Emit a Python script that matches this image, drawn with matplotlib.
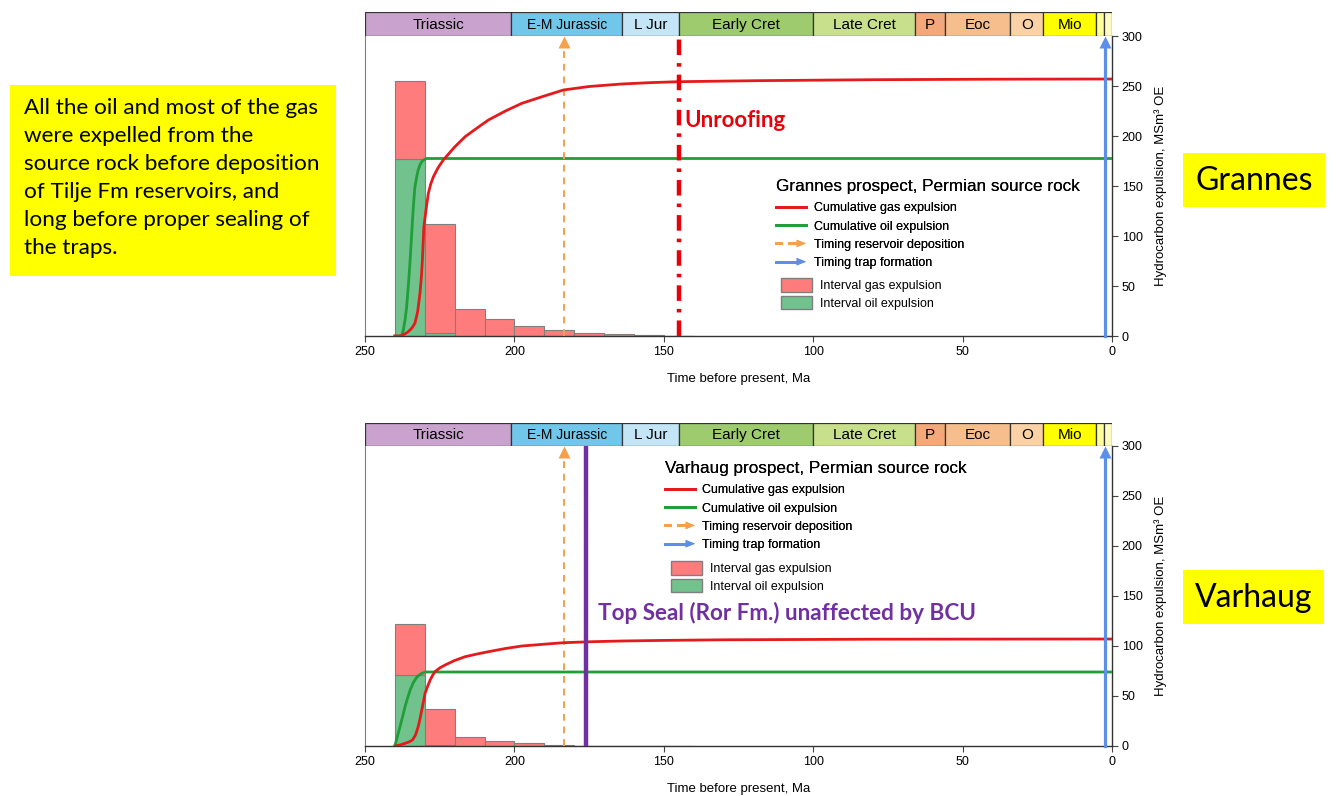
import matplotlib
matplotlib.use('Agg')
import matplotlib.pyplot as plt
from matplotlib.patches import Rectangle, Polygon, Patch
from matplotlib.lines import Line2D
from matplotlib.legend_handler import HandlerBase

plt.rcParams['font.family'] = ['Liberation Sans', 'DejaVu Sans']

W, H = 1338, 796

# geological time scale (Ma)
periods = ['Triassic', 'E-M Jurassic', 'L Jur', 'Early Cret', 'Late Cret', 'P', 'Eoc', 'O', 'Mio', '', '']
period_start = [250, 201, 164, 145, 100, 66, 56, 34, 23, 5.3, 2.6]
period_end = [201, 164, 145, 100, 66, 56, 34, 23, 5.3, 2.6, 0]
period_colors = ['#C9A3CE', '#71C7EA', '#C3E5F5', '#9ECB6E', '#C8E08C', '#F4A779',
                 '#F6BE8D', '#FBD2A6', '#FFFF00', '#FFFF99', '#FFFAC2']

# interval expulsion, 10 Ma bins
bin_mid = [235, 225, 215, 205, 195, 185, 175, 165, 155, 145]
grannes_oil_int = [177, 3, 0.5, 0, 0, 0, 0, 0, 0, 0]
grannes_gas_int = [78, 109, 26.5, 17, 10, 6, 3, 1.7, 0.8, 0.4]
varhaug_oil_int = [71, 1.5, 0.3, 0, 0, 0, 0, 0, 0, 0]
varhaug_gas_int = [51, 35.5, 8.7, 5, 2.7, 1.2, 0.5, 0.2, 0.1, 0]

# cumulative expulsion curves (Ma, MSm3 OE)
grannes_gas_age = [240, 238.3, 237, 235.5, 234.3, 233.3, 232.4, 231.6, 231.1, 230.8, 230.3,
                   229.5, 228.8, 228, 227.1, 225.5, 223.8, 220, 216.5, 212.5, 208.7, 203,
                   197.5, 190, 183.6, 175, 164.1, 155, 145.2, 119.5, 80, 40, 0]
grannes_gas_cum = [0, 0, 1.5, 4.3, 8, 12.7, 24, 42.7, 60, 76, 109,
                   128, 142.7, 152, 159.3, 168.5, 176, 189, 199.3, 208, 216, 225,
                   232.7, 240, 246, 249.5, 252, 253.3, 254.3, 255.3, 256.3, 256.8, 257]
grannes_oil_age = [240, 237.7, 237.1, 236.6, 236.1, 235.7, 235.3, 234.9, 234.5, 234.1,
                   233.7, 233.3, 232.7, 232.2, 231.6, 231, 230.2, 229.4, 0]
grannes_oil_cum = [0, 0, 7, 16, 28, 42.7, 58, 76, 96, 116,
                   134, 149, 159, 166, 171, 174.3, 176.5, 177.5, 177.5]

varhaug_gas_age = [240, 238.3, 236.6, 235.3, 234.1, 233.1, 232.2, 231.6, 231, 230.4, 229.9,
                   229, 228.2, 227.4, 226.6, 225, 223.2, 220, 216.5, 212.5, 208.7, 203,
                   197.5, 190, 183.6, 174, 164.1, 150, 130, 80, 0]
varhaug_gas_cum = [0, 1, 2.7, 4, 6, 11, 19.3, 27, 36, 45, 52.7,
                   60, 66, 70.5, 74.3, 78, 81, 85.5, 89.3, 92, 94.3, 97.5,
                   100, 101.8, 103.3, 104.3, 105, 105.6, 106.2, 106.8, 107]
varhaug_oil_age = [240, 239.2, 238.3, 237.4, 236.6, 235.7, 234.9, 233.8, 232.7, 231.5,
                   230.5, 229.9, 0]
varhaug_oil_cum = [0, 9, 19.3, 29.5, 39.3, 48.5, 56, 63.5, 68.7, 71.8,
                   73.3, 74, 74]

reservoir_age = 183.5
trap_age = 2.5
unroofing_age = 145
top_seal_age = 176

GAS_LINE = '#E41A1C'
OIL_LINE = '#1F9E3A'
GAS_FILL = '#FF7C7C'
OIL_FILL = '#72C28D'
RES_C = '#F5A04A'
TRAP_C = '#5B8FE8'


def fig_box(x0, y0, x1, y1):
    # pixel box (top-left origin) -> figure fraction rect
    return [x0 / W, 1 - y1 / H, (x1 - x0) / W, (y1 - y0) / H]


def fpt(x, y):
    return (x / W, 1 - y / H)


class ArrowHandler(HandlerBase):
    def __init__(self, color, dashed=False):
        super().__init__()
        self.color = color
        self.dashed = dashed

    def create_artists(self, legend, orig_handle, xdescent, ydescent,
                       width, height, fontsize, trans):
        y = height / 2 - ydescent
        x0 = -xdescent
        x1 = x0 + width
        hl = 0.75 * fontsize
        if self.dashed:
            segs = [Line2D([x0, x0 + 0.18 * width], [y, y]),
                    Line2D([x0 + 0.42 * width, x1 - hl], [y, y])]
        else:
            segs = [Line2D([x0, x1 - hl], [y, y])]
        for s in segs:
            s.set_color(self.color)
            s.set_linewidth(2)
            s.set_transform(trans)
        tri = Polygon([[x1 - hl, y + 0.4 * hl], [x1, y], [x1 - hl, y - 0.4 * hl]],
                      closed=True, facecolor=self.color, edgecolor='none', transform=trans)
        return segs + [tri]


def draw_timescale(ax):
    for name, s, e, c in zip(periods, period_start, period_end, period_colors):
        ax.add_patch(Rectangle((e, 0), s - e, 1, facecolor=c, edgecolor='#333333', lw=0.9))
        if name:
            fs = 10 if name == 'E-M Jurassic' else 11
            ax.text((s + e) / 2, 0.47, name, ha='center', va='center', fontsize=fs)
    ax.set_xlim(250, 0)
    ax.set_ylim(0, 1)
    ax.axis('off')


def draw_panel(ax, oil_int, gas_int, gas_age, gas_cum, oil_age, oil_cum):
    ax.bar(bin_mid, oil_int, width=10, color=OIL_FILL, edgecolor='#7F7F7F', lw=0.8, zorder=2)
    ax.bar(bin_mid, gas_int, width=10, bottom=oil_int, color=GAS_FILL,
           edgecolor='#7F7F7F', lw=0.8, zorder=2)
    ax.plot(gas_age, gas_cum, color=GAS_LINE, lw=2, zorder=4)
    ax.plot(oil_age, oil_cum, color=OIL_LINE, lw=2, zorder=3)

    # reservoir deposition (dashed arrow) and trap formation (solid arrow)
    ax.plot([reservoir_age, reservoir_age], [0, 292], color=RES_C, lw=1.4,
            dashes=(3.5, 3), zorder=3, clip_on=False)
    ax.plot([reservoir_age], [294], marker='^', ms=8, color=RES_C, mec='none',
            zorder=3, clip_on=False)
    ax.plot([trap_age, trap_age], [0, 292], color=TRAP_C, lw=2.3, zorder=5, clip_on=False)
    ax.plot([trap_age], [294], marker='^', ms=8, color=TRAP_C, mec='none',
            zorder=5, clip_on=False)

    ax.set_xlim(250, 0)
    ax.set_ylim(0, 300)
    ax.set_xticks([250, 200, 150, 100, 50, 0])
    ax.set_yticks([0, 50, 100, 150, 200, 250, 300])
    ax.yaxis.tick_right()
    ax.yaxis.set_label_position('right')
    ax.tick_params(axis='both', labelsize=9, length=4, width=0.8, color='#444444', pad=3)
    ax.tick_params(axis='y', pad=3)
    ax.spines['top'].set_visible(False)
    ax.spines['left'].set_color('#808080')
    for sp in ['bottom', 'right']:
        ax.spines[sp].set_color('#333333')
        ax.spines[sp].set_linewidth(1.0)
    ax.set_xlabel('Time before present, Ma', fontsize=9.5, labelpad=11)
    ax.set_ylabel('Hydrocarbon expulsion, MSm³ OE', fontsize=9.5, labelpad=8)


def add_legend(fig, title, line_xy, patch_xy):
    res_h = Line2D([], [], color=RES_C)
    trap_h = Line2D([], [], color=TRAP_C)
    handles = [Line2D([], [], color=GAS_LINE, lw=2), Line2D([], [], color=OIL_LINE, lw=2),
               res_h, trap_h]
    labels = ['Cumulative gas expulsion', 'Cumulative oil expulsion',
              'Timing reservoir deposition', 'Timing trap formation']
    leg1 = fig.legend(handles, labels, title=title, loc='upper left',
                      bbox_to_anchor=fpt(*line_xy), frameon=False, fontsize=9,
                      title_fontsize=12.3, alignment='left', handlelength=2.4,
                      handletextpad=0.6, labelspacing=0.5, borderpad=0, borderaxespad=0,
                      handler_map={res_h: ArrowHandler(RES_C, dashed=True),
                                   trap_h: ArrowHandler(TRAP_C)})
    leg1._legend_box.sep = 6
    patches = [Patch(facecolor=GAS_FILL, edgecolor='#7F7F7F'),
               Patch(facecolor=OIL_FILL, edgecolor='#7F7F7F')]
    fig.legend(patches, ['Interval gas expulsion', 'Interval oil expulsion'], loc='upper left',
               bbox_to_anchor=fpt(*patch_xy), frameon=False, fontsize=9,
               handlelength=2.5, handleheight=1.3, handletextpad=0.6, labelspacing=0.3,
               borderpad=0, borderaxespad=0)
    fig.add_artist(leg1)


fig = plt.figure(figsize=(W / 100, H / 100), dpi=100)

# upper panel: Grannes
ts1 = fig.add_axes(fig_box(365, 12, 1112, 36))
ax1 = fig.add_axes(fig_box(365, 36, 1112, 336))
draw_timescale(ts1)
draw_panel(ax1, grannes_oil_int, grannes_gas_int, grannes_gas_age, grannes_gas_cum,
           grannes_oil_age, grannes_oil_cum)
ax1.plot([unroofing_age, unroofing_age], [0, 300], color='#E8000B', lw=3.2,
         dashes=(3.5, 1.8, 0.8, 1.8), zorder=4)
ax1.text(143, 216, 'Unroofing', color='#E8000B', fontsize=16, fontweight='bold',
         family=['Lato', 'DejaVu Sans'], va='center', ha='left')
add_legend(fig, 'Grannes prospect, Permian source rock', (776, 179), (781, 278))

# lower panel: Varhaug
ts2 = fig.add_axes(fig_box(365, 423, 1112, 446))
ax2 = fig.add_axes(fig_box(365, 446, 1112, 746))
draw_timescale(ts2)
draw_panel(ax2, varhaug_oil_int, varhaug_gas_int, varhaug_gas_age, varhaug_gas_cum,
           varhaug_oil_age, varhaug_oil_cum)
ax2.plot([top_seal_age, top_seal_age], [0, 300], color='#7030A0', lw=3.2, zorder=4)
ax2.text(172, 133, 'Top Seal (Ror Fm.) unaffected by BCU', color='#7030A0', fontsize=16.2,
         fontweight='bold', family=['Lato', 'DejaVu Sans'], va='center', ha='left')
add_legend(fig, 'Varhaug prospect, Permian source rock', (665, 461), (671, 561))

# callout boxes
fig.add_artist(Rectangle(fpt(10, 276), 326 / W, 191 / H, transform=fig.transFigure,
                         facecolor='#FFFF00', edgecolor='none'))
fig.text(*fpt(24, 178), 'All the oil and most of the gas\nwere expelled from the\n'
         'source rock before deposition\nof Tilje Fm reservoirs, and\n'
         'long before proper sealing of\nthe traps.', fontsize=16.2, linespacing=1.5,
         va='center', ha='left', family=['Lato', 'DejaVu Sans'])

for label, (x0, y0, x1, y1) in [('Grannes', (1183, 153, 1325, 207)),
                                ('Varhaug', (1183, 570, 1324, 624))]:
    fig.add_artist(Rectangle(fpt(x0, y1), (x1 - x0) / W, (y1 - y0) / H,
                             transform=fig.transFigure, facecolor='#FFFF00', edgecolor='none'))
    fig.text(*fpt((x0 + x1) / 2, (y0 + y1) / 2 + 1), label, fontsize=23, ha='center',
             va='center', family=['Lato', 'DejaVu Sans'])

fig.savefig('out.png', dpi=100)
